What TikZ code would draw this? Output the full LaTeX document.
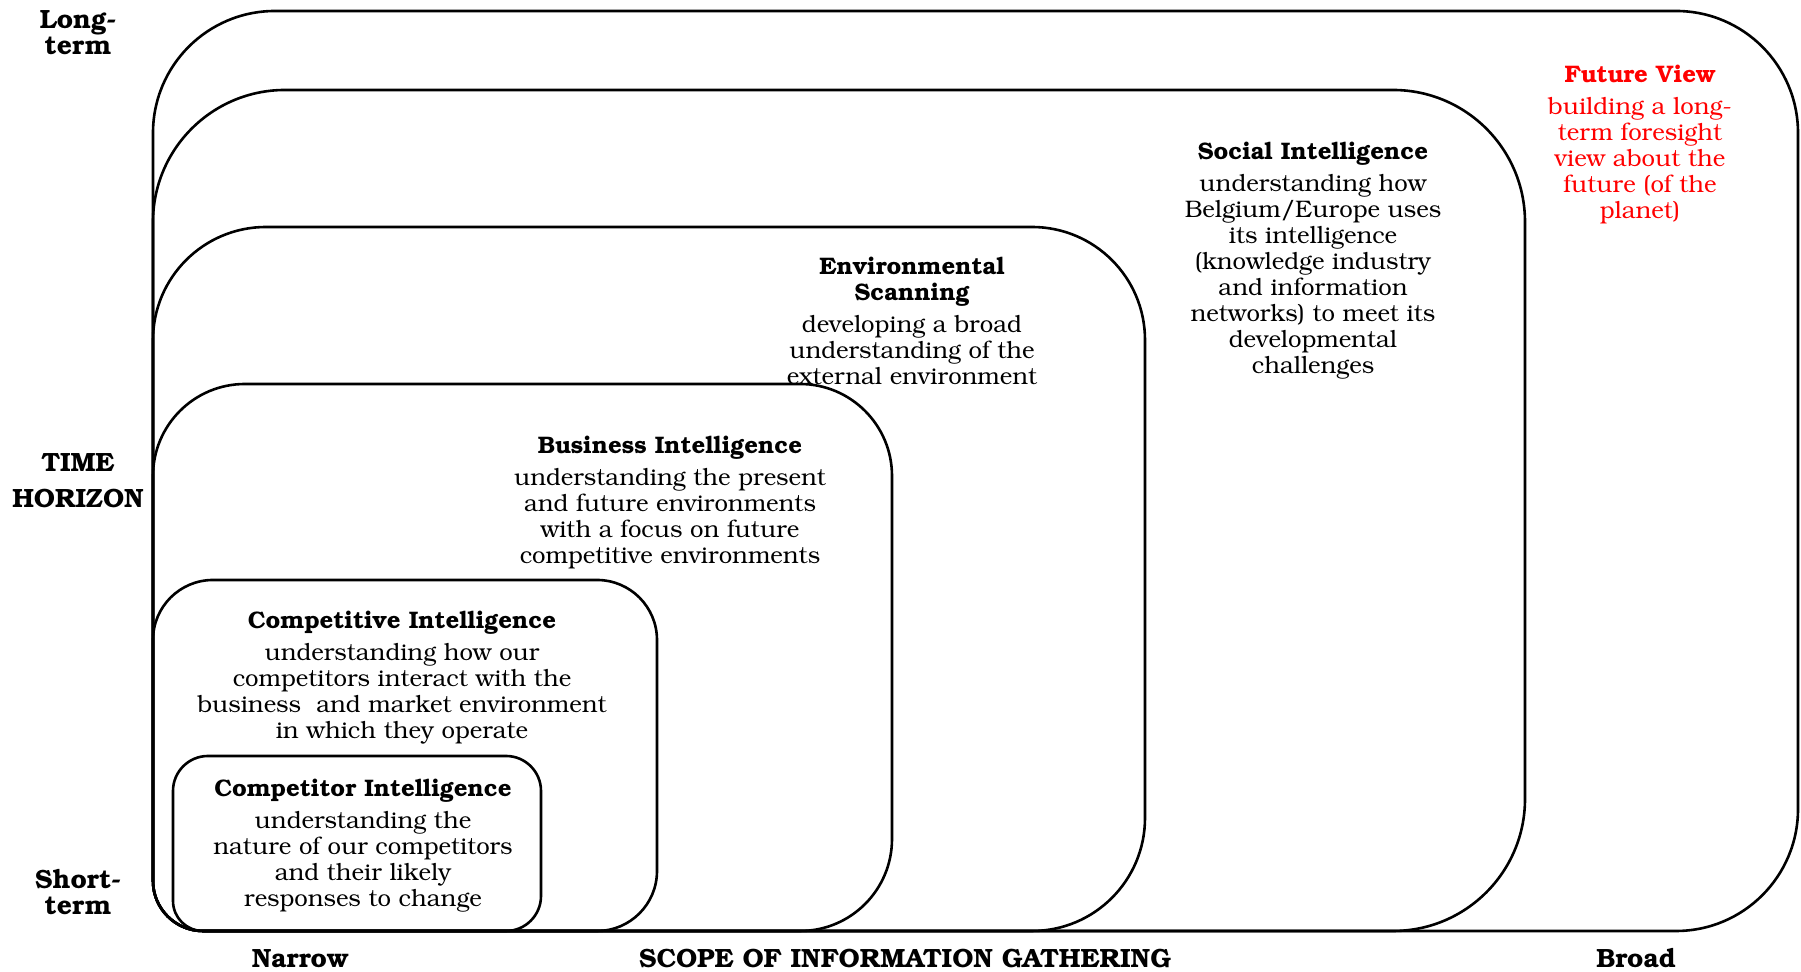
\documentclass[tikz,border=0pt]{standalone}
\usepackage[T1]{fontenc}
\usepackage{bookman}
\newcommand\roundbox[6]{% L, Rx, Yt, Rad, r0, Yb
  \draw[frame] (#1,{#6+#5}) -- (#1,{#3-#4})
    arc[start angle=180,end angle=90,radius=#4] -- ({#2-#4},#3)
    arc[start angle=90,end angle=0,radius=#4] -- (#2,{#6+#4})
    arc[start angle=0,end angle=-90,radius=#4] -- ({#1+#5},#6)
    arc[start angle=-90,end angle=-180,radius=#5] -- cycle;}
\begin{document}
\begin{tikzpicture}[x=0.5pt,y=0.5pt,
  frame/.style={draw=black,line width=1.3pt},
  body/.style={align=center,inner sep=0pt,anchor=north,font=\fontsize{11.95}{13}\selectfont},
  axislbl/.style={inner sep=0pt,align=center,font=\fontsize{13.2}{13}\selectfont\bfseries},
]
\useasboundingbox (0,0) rectangle (1801,972);
% nested boxes: L, Rx, Ytop, radius, bottom-left radius, Ybottom
\roundbox{153}{1798}{961}{122}{50}{41}
\roundbox{153}{1525}{882}{132}{50}{41}
\roundbox{153}{1145}{745}{113}{50}{41}
\roundbox{153}{892}{588}{92}{50}{41}
\roundbox{153}{657}{392}{60}{50}{41}
\roundbox{173}{541}{216}{35}{30}{41}

\node[body,text=red] (future) at (1640,907) {{\bfseries Future View}\\[3pt]
  building a long-\\term foresight\\view about the\\future (of the\\planet)};
\node[body] (social) at (1313,830) {{\bfseries Social Intelligence}\\[3pt]
  understanding how\\Belgium/Europe uses\\its intelligence\\(knowledge industry\\and information\\networks) to meet its\\developmental\\challenges};
\node[body] (env) at (912,715) {{\bfseries Environmental}\\{\bfseries Scanning}\\[3pt]
  developing a broad\\understanding of the\\external environment};
\node[body] (business) at (670,536) {{\bfseries Business Intelligence}\\[3pt]
  understanding the present\\and future environments\\with a focus on future\\competitive environments};
\node[body] (competitive) at (402,361) {{\bfseries Competitive Intelligence}\\[3pt]
  understanding how our\\competitors interact with the\\business\ \ and market environment\\in which they operate};
\node[body] (competitor) at (363,193) {{\bfseries Competitor Intelligence}\\[3pt]
  understanding the\\nature of our competitors\\and their likely\\responses to change};

\node[axislbl,anchor=north] (long) at (78,962) {Long-\\term};
\node[axislbl,anchor=north,font=\fontsize{13.2}{18}\selectfont\bfseries] (time) at (78,519) {TIME\\HORIZON};
\node[axislbl,anchor=north] (short) at (78,103) {Short-\\term};
\node[axislbl,anchor=base] (narrow) at (300,4) {Narrow};
\node[axislbl,anchor=base] (scope) at (905,4) {SCOPE OF INFORMATION GATHERING};
\node[axislbl,anchor=base] (broad) at (1636,4) {Broad};
\end{tikzpicture}
\end{document}
